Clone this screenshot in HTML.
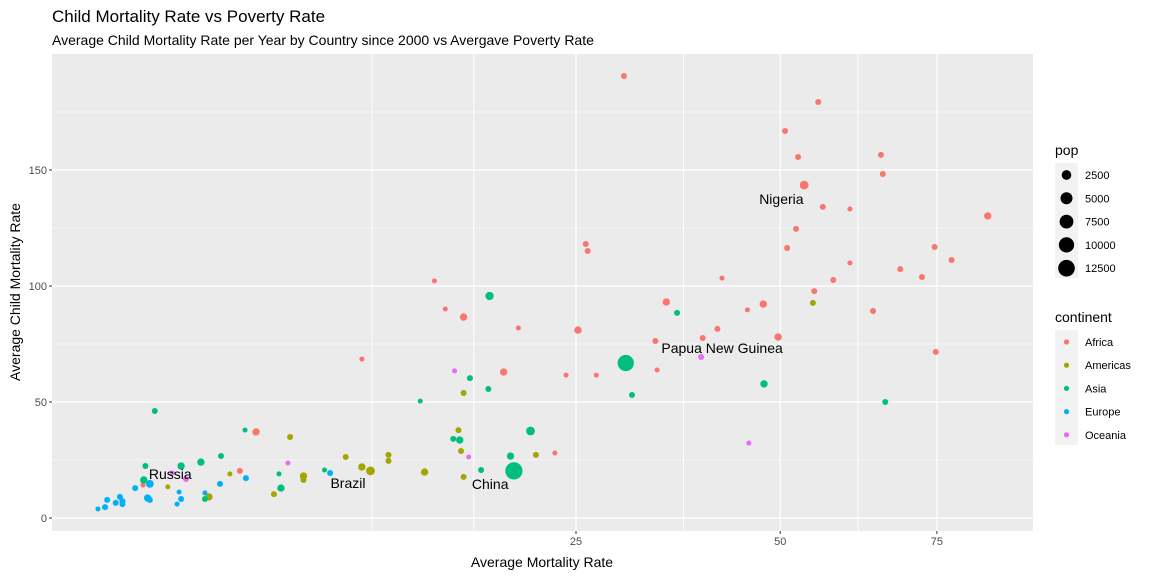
<!DOCTYPE html>
<html><head><meta charset="utf-8">
<style>
body{margin:0;background:#fff;font-family:"Liberation Sans",Arial,sans-serif;}
svg text{font-family:"Liberation Sans",Arial,sans-serif;}
</style></head>
<body>
<svg id="chart" width="1152" height="576" viewBox="0 0 1152 576" xmlns="http://www.w3.org/2000/svg">
<text x="52" y="22" font-size="17" fill="#000">Child Mortality Rate vs Poverty Rate</text>
<text x="52" y="45" font-size="14" fill="#000">Average Child Mortality Rate per Year by Country since 2000 vs Avergave Poverty Rate</text>
<rect x="52" y="54" width="981" height="477" fill="#EBEBEB"/>
<g id="grid"></g>
<g id="points"></g>
<g id="labels"></g>
<g id="axes"></g>
<text x="542" y="567" font-size="14" text-anchor="middle" fill="#000">Average Mortality Rate</text>
<text transform="translate(20,292) rotate(-90)" font-size="14" text-anchor="middle" fill="#000">Average Child Mortality Rate</text>
<g id="legend"></g>
</svg>
<script>
const categories = ["Africa","Americas","Asia","Europe","Oceania"];
const colors = ["#F8766D","#A3A500","#00BF7D","#00B0F6","#E76BF3"];
const xTicks = [25,50,75];
const xTickLabels = ["25","50","75"];
const xGridExtra = [8.6,15.7,37.1,61.8];
const yTicks = [0,50,100,150];
const yTickLabels = ["0","50","100","150"];
const yMinor = [25,75,125,175];
const popBreaks = [2500,5000,7500,10000,12500];
const mortality = [30.1,55.6,50.7,52.6,65.5,65.8,53.5,56.3,60.5,84.2,52.3,51.0,74.6,77.6,60.5,68.7,72.4,57.9,42.0,55.0,64.2,35.0,47.6,45.4,41.4,49.7,39.5,33.7,74.8,33.9,26.0,26.2,12.7,13.5,14.9,19.5,25.2,8.0,18.2,24.0,27.1,22.9,3.08,2.53,0.37,
54.8,14.9,14.5,14.7,21.1,12.0,14.9,7.1,8.0,8.5,9.6,9.6,5.0,5.0,3.75,4.41,2.22,0.74,1.63,
17.0,36.3,30.3,31.0,47.7,66.2,15.4,16.9,11.7,20.6,14.1,14.6,18.8,16.3,19.1,6.0,3.95,4.03,2.7,0.53,1.96,1.43,0.99,0.40,0.38,1.53,
6.28,2.73,1.93,0.46,0.28,0.95,1.53,0.99,0.91,0.43,0.46,0.14,0.16,0.11,0.16,0.06,0.05,0.023,
39.3,45.6,14.2,15.3,0.82,1.09,4.32];
const childMortality = [190.5,179.3,166.8,155.6,156.5,148.3,143.5,134.1,133.2,130.2,124.6,116.4,116.8,111.2,109.9,107.3,103.9,102.6,103.4,97.8,89.2,93.1,92.2,89.7,81.5,78.0,77.6,76.3,71.6,63.8,118.1,115.1,102.2,90.1,86.6,81.9,81.0,68.5,62.9,61.6,61.6,28.0,37.1,20.3,14.2,
92.7,53.9,37.9,28.9,27.2,19.8,17.7,26.3,22.0,20.3,27.2,24.6,18.1,16.4,10.3,34.9,19.0,13.4,9.1,
95.7,88.4,66.8,53.0,57.8,50.0,60.3,55.6,50.4,37.5,34.1,33.6,26.7,20.7,20.3,20.7,19.0,12.9,37.9,46.1,26.7,24.1,22.4,22.4,16.4,8.2,
19.4,17.2,14.7,14.7,12.9,11.2,10.8,8.2,6.0,8.6,7.8,9.1,7.3,6.5,6.0,7.8,4.7,3.9,
69.4,32.3,63.4,26.3,19.4,16.8,23.7];
const pop = [200,200,200,200,200,200,1500,200,30,700,200,200,200,200,30,200,200,200,30,200,200,700,700,30,200,700,200,200,200,30,200,200,30,30,700,30,700,30,700,30,30,30,700,200,30,
200,200,200,200,200,700,200,200,700,1500,200,200,700,200,200,200,30,30,700,
1200,200,11000,200,700,200,200,200,30,1500,200,700,700,200,13000,30,30,700,30,200,200,700,700,200,700,200,
200,200,200,900,200,30,30,200,30,700,200,200,200,200,200,200,200,30,
200,30,30,30,30,200,30];
const continent = [0,0,0,0,0,0,0,0,0,0,0,0,0,0,0,0,0,0,0,0,0,0,0,0,0,0,0,0,0,0,0,0,0,0,0,0,0,0,0,0,0,0,0,0,0,
1,1,1,1,1,1,1,1,1,1,1,1,1,1,1,1,1,1,1,
2,2,2,2,2,2,2,2,2,2,2,2,2,2,2,2,2,2,2,2,2,2,2,2,2,2,
3,3,3,3,3,3,3,3,3,3,3,3,3,3,3,3,3,3,
4,4,4,4,4,4,4];
const labelNames = ["Nigeria","Papua New Guinea","Russia","Brazil","China"];
const labelX = [53.5,33.7,0.46,8.5,19.1];
const labelY = [143.5,76.3,14.7,20.3,20.3];

const NS="http://www.w3.org/2000/svg";
const PL=52,PR=1033,PT=54,PB=531;
function xs(v){return 83+98.6*Math.sqrt(v);}
function ys(v){return 518-2.32*v;}
function rs(p){return 2.2+0.0565*Math.sqrt(p);}
function mk(tag,attrs,parent){const e=document.createElementNS(NS,tag);for(const k in attrs)e.setAttribute(k,attrs[k]);parent.appendChild(e);return e;}
const grid=document.getElementById('grid');
yMinor.forEach(v=>{if(ys(v)<PT)return;const l=mk('line',{x1:PL,x2:PR,y1:ys(v),y2:ys(v),stroke:'#fff','stroke-width':0.6},grid);

});
yTicks.forEach(v=>{const l=mk('line',{x1:PL,x2:PR,y1:ys(v),y2:ys(v),stroke:'#fff','stroke-width':1.2},grid);

});
xGridExtra.forEach(v=>{const l=mk('line',{x1:xs(v),x2:xs(v),y1:PT,y2:PB,stroke:'#fff','stroke-width':0.9},grid);

});
xTicks.forEach(v=>{const l=mk('line',{x1:xs(v),x2:xs(v),y1:PT,y2:PB,stroke:'#fff','stroke-width':1.2},grid);

});
const axes=document.getElementById('axes');
yTicks.forEach((v,i)=>{mk('line',{x1:PL-3,x2:PL,y1:ys(v),y2:ys(v),stroke:'#333','stroke-width':1},axes);
const t=mk('text',{x:PL-5,y:ys(v)+4,'font-size':11,'text-anchor':'end',fill:'#4D4D4D'},axes);t.textContent=yTickLabels[i];

});
xTicks.forEach((v,i)=>{mk('line',{x1:xs(v),x2:xs(v),y1:PB,y2:PB+3,stroke:'#333','stroke-width':1},axes);
const t=mk('text',{x:xs(v),y:PB+14,'font-size':11,'text-anchor':'middle',fill:'#4D4D4D'},axes);t.textContent=xTickLabels[i];

});
const pts=document.getElementById('points');
mortality.forEach((m,i)=>{const c=mk('circle',{cx:xs(m),cy:ys(childMortality[i]),r:rs(pop[i]),fill:colors[continent[i]]},pts);

});
const lab=document.getElementById('labels');
const offs=[[-45,19],[6,12],[-1,-5],[-40,17],[-42,18]];
labelNames.forEach((n,i)=>{const t=mk('text',{x:xs(labelX[i])+offs[i][0],y:ys(labelY[i])+offs[i][1],'font-size':14,fill:'#000'},lab);t.textContent=n;

});
const lg=document.getElementById('legend');
const t1=mk('text',{x:1055,y:155,'font-size':14,fill:'#000'},lg);t1.textContent='pop';


mk('rect',{x:1055,y:163,width:23,height:115,fill:'#F2F2F2'},lg);
popBreaks.forEach((p,i)=>{const y=175+i*23.3;
const c=mk('circle',{cx:1066.5,cy:y,r:rs(p)-0.2,fill:'#000'},lg);


const t=mk('text',{x:1085,y:y+4,'font-size':11,fill:'#000'},lg);t.textContent=String(p);

});
const t2=mk('text',{x:1055,y:322,'font-size':14,fill:'#000'},lg);t2.textContent='continent';


mk('rect',{x:1055,y:330,width:23,height:115,fill:'#F2F2F2'},lg);
categories.forEach((n,i)=>{const y=342+i*23.2;
const c=mk('circle',{cx:1066.5,cy:y,r:2.6,fill:colors[i]},lg);


const t=mk('text',{x:1085,y:y+4,'font-size':11,fill:'#000'},lg);t.textContent=n;

});
</script>
</body></html>
